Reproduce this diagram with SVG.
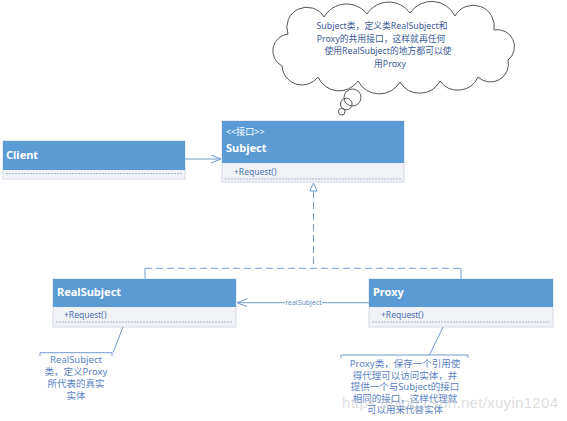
<svg xmlns="http://www.w3.org/2000/svg" width="567" height="421" viewBox="0 0 567 421">
<style>
.hdr{fill:#5b9bd5;}
.body{fill:#f2f3f6;stroke:#c9d2df;stroke-width:0.8;}
.dash{stroke:#8fa3c2;stroke-width:0.8;stroke-dasharray:2 1;}
.name{font-family:"Noto Sans","Noto Sans CJK SC",sans-serif;font-size:11px;font-weight:bold;fill:#ffffff;}
.stereo{font-family:"Noto Sans","Noto Sans CJK SC",sans-serif;font-size:9px;fill:#ffffff;}
.op{font-family:"Noto Sans","Noto Sans CJK SC",sans-serif;font-size:8.5px;fill:#4a72b0;}
.conn{stroke:#7399cf;stroke-width:1;fill:none;}
.note{font-family:"Noto Sans","Noto Sans CJK SC",sans-serif;font-size:9.5px;fill:#5b82c4;text-anchor:middle;}
.cloudtxt{font-family:"Noto Sans","Noto Sans CJK SC",sans-serif;font-size:8.8px;fill:#3b5a96;text-anchor:middle;}
.lbl{font-family:"Noto Sans","Noto Sans CJK SC",sans-serif;font-size:7px;fill:#6b8cc4;text-anchor:middle;}
</style>
<defs>
<marker id="open" markerWidth="12" markerHeight="10" refX="10" refY="4" orient="auto" markerUnits="userSpaceOnUse">
<path d="M0,0 L10,4 L0,8" fill="none" stroke="#7399cf" stroke-width="1"/>
</marker>
</defs>
<rect width="567" height="421" fill="#ffffff"/>

<g id="cloud">
<path d="M282,66 A17,17 0 0 1 288,34 A20,20 0 0 1 324,17 A26,26 0 0 1 367,14 A26,26 0 0 1 410,13 A26,26 0 0 1 455,16 A21,21 0 0 1 494,30 A17,17 0 0 1 508,60 A18,18 0 0 1 478,77 A22,22 0 0 1 440,81 A23,23 0 0 1 400,82 A24,24 0 0 1 358,81 A23,23 0 0 1 318,77 A20,20 0 0 1 282,66 Z" fill="#ffffff" stroke="#555555" stroke-width="1"/>
<circle cx="352.5" cy="97.5" r="8.5" fill="none" stroke="#555555" stroke-width="1"/>
<circle cx="346.3" cy="104" r="5.8" fill="none" stroke="#555555" stroke-width="1"/>
<circle cx="341.7" cy="111.7" r="3.3" fill="none" stroke="#555555" stroke-width="1"/>
<text class="cloudtxt" x="382" y="29">Subject类，定义类RealSubject和</text>
<text class="cloudtxt" x="381" y="41.5">Proxy的共用接口，这样就再任何</text>
<text class="cloudtxt" x="388" y="53.5">使用RealSubject的地方都可以使</text>
<text class="cloudtxt" x="390" y="66.5">用Proxy</text>
</g>

<g id="client">
<rect class="body" x="3" y="141" width="182" height="38"/>
<rect class="hdr" x="3" y="141" width="182" height="29"/>
<line class="dash" x1="6" y1="173.5" x2="182" y2="173.5"/>
<text class="name" x="6" y="159">Client</text>
</g>

<g id="subject">
<rect class="body" x="222" y="121" width="182" height="61"/>
<rect class="hdr" x="222" y="121" width="182" height="42"/>
<text class="stereo" x="226" y="135">&lt;&lt;接口&gt;&gt;</text>
<text class="name" x="226" y="151.5">Subject</text>
<text class="op" x="234" y="174.5">+Request()</text>
<line class="dash" x1="225" y1="179" x2="401" y2="179"/>
</g>

<g id="realsubject">
<rect class="body" x="53" y="279" width="183" height="48"/>
<rect class="hdr" x="53" y="279" width="183" height="28"/>
<text class="name" x="57" y="296">RealSubject</text>
<text class="op" x="64" y="318">+Request()</text>
<line class="dash" x1="56" y1="322" x2="233" y2="322"/>
</g>

<g id="proxy">
<rect class="body" x="369" y="279" width="184" height="48"/>
<rect class="hdr" x="369" y="279" width="184" height="28"/>
<text class="name" x="373" y="296">Proxy</text>
<text class="op" x="381" y="318">+Request()</text>
<line class="dash" x1="372" y1="322" x2="550" y2="322"/>
</g>

<g id="note-realsubject">
<path class="conn" d="M40,356 L40,352.7 L112,352.7 L112,356 M113,352.7 L123,327"/>
<text class="note" x="76" y="363">RealSubject</text>
<text class="note" x="76" y="375">类，定义Proxy</text>
<text class="note" x="76" y="387">所代表的真实</text>
<text class="note" x="76" y="399">实体</text>
</g>

<g id="note-proxy">
<path class="conn" d="M341,358 L341,355 L468,355 L468,358 M429.5,355 L443,327"/>
<text class="note" x="405" y="367">Proxy类，保存一个引用使</text>
<text class="note" x="405" y="378.5">得代理可以访问实体，并</text>
<text class="note" x="405" y="390">提供一个与Subject的接口</text>
<text class="note" x="405" y="401.5">相同的接口，这样代理就</text>
<text class="note" x="405" y="413">可以用来代替实体</text>
</g>

<g id="connectors">
<line class="conn" x1="185" y1="159" x2="221" y2="159" marker-end="url(#open)"/>
<line class="conn" x1="369" y1="302.7" x2="237" y2="302.7" marker-end="url(#open)"/>
<rect x="285" y="298" width="37" height="9" fill="#ffffff"/>
<text class="lbl" x="303.5" y="305">realSubject</text>
<line class="conn" x1="313.5" y1="191" x2="313.5" y2="268.3" stroke-dasharray="7 4"/>
<path d="M313.5,183 L317.2,191 L309.8,191 Z" fill="#ffffff" stroke="#7399cf" stroke-width="1"/>
<line class="conn" x1="145" y1="268.3" x2="461" y2="268.3" stroke-dasharray="7 4"/>
<line class="conn" x1="145" y1="268.3" x2="145" y2="279"/>
<line class="conn" x1="461" y1="268.3" x2="461" y2="279"/>
</g>

<text x="342" y="408" font-family="Liberation Sans, sans-serif" font-size="15" fill="#c8c8c8" fill-opacity="0.6" textLength="216">https://blog.csdn.net/xuyin1204</text>
</svg>
